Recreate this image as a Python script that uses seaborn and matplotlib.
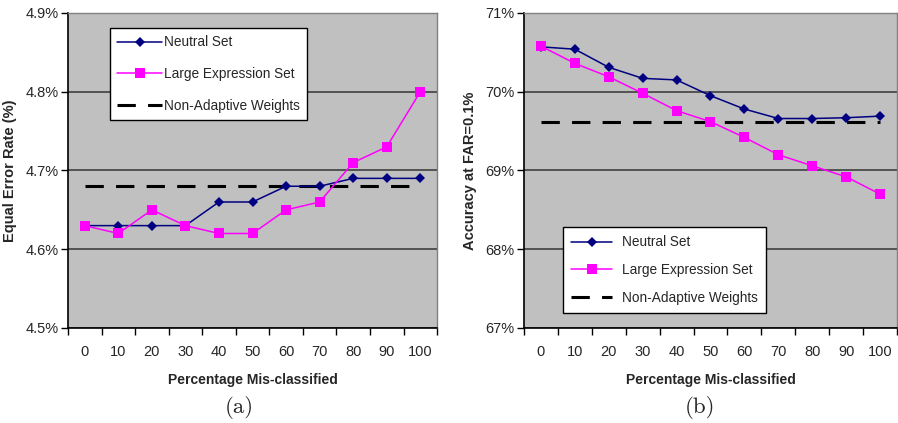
import matplotlib
matplotlib.use('Agg')
import matplotlib.pyplot as plt
import seaborn as sns
import pandas as pd
import numpy as np
from matplotlib.lines import Line2D
from matplotlib.ticker import FixedLocator, FuncFormatter

# Data
pct_misclassified = ['0', '10', '20', '30', '40', '50', '60', '70', '80', '90', '100']

eer_neutral = [4.63, 4.63, 4.63, 4.63, 4.66, 4.66, 4.68, 4.68, 4.69, 4.69, 4.69]
eer_large = [4.63, 4.62, 4.65, 4.63, 4.62, 4.62, 4.65, 4.66, 4.71, 4.73, 4.80]
eer_nonadaptive = 4.68

acc_neutral = [70.57, 70.54, 70.31, 70.17, 70.15, 69.95, 69.78, 69.66, 69.66, 69.67, 69.69]
acc_large = [70.58, 70.36, 70.19, 69.98, 69.76, 69.62, 69.42, 69.20, 69.06, 68.92, 68.70]
acc_nonadaptive = 69.61

NAVY = '#000080'
MAGENTA = '#FF00FF'
BG = '#C0C0C0'

sns.set_style('white')
plt.rcParams['font.family'] = ['Liberation Sans', 'DejaVu Sans']


def draw_panel(ax, neutral, large, baseline, ylim, ystep, yfmt, ylabel, legend_loc, leg_kw):
    pos = np.arange(len(pct_misclassified))
    df = pd.DataFrame({
        'pos': np.tile(pos, 3),
        'value': list(neutral) + list(large) + [baseline] * len(pos),
        'series': (['Neutral Set'] * len(pos) + ['Large Expression Set'] * len(pos)
                   + ['Non-Adaptive Weights'] * len(pos)),
    })
    ax.set_facecolor(BG)

    sns.lineplot(data=df[df['series'] == 'Non-Adaptive Weights'], x='pos', y='value',
                 color='black', linewidth=2.2, dashes=False, ax=ax, zorder=2)
    ax.lines[-1].set_dashes([6, 4])
    sns.lineplot(data=df[df['series'] == 'Neutral Set'], x='pos', y='value',
                 color=NAVY, linewidth=1.1, marker='D', markersize=5,
                 markeredgewidth=0, ax=ax, zorder=3)
    sns.lineplot(data=df[df['series'] == 'Large Expression Set'], x='pos', y='value',
                 color=MAGENTA, linewidth=1.1, marker='s', markersize=6.5,
                 markeredgewidth=0, ax=ax, zorder=4)

    ax.set_xlim(-0.5, len(pos) - 0.5)
    ax.set_ylim(*ylim)
    yt = np.arange(ylim[0], ylim[1] + ystep / 2, ystep)
    ax.set_yticks(yt)
    ax.yaxis.set_major_formatter(FuncFormatter(yfmt))
    ax.yaxis.grid(True, color='#404040', linewidth=1.2)
    ax.set_axisbelow(True)

    ax.xaxis.set_major_locator(FixedLocator(np.arange(-0.5, len(pos), 1.0)))
    ax.xaxis.set_minor_locator(FixedLocator(pos))
    ax.set_xticklabels([])
    ax.set_xticklabels(pct_misclassified, minor=True)
    ax.tick_params(axis='x', which='major', direction='out', length=5, width=1,
                   bottom=True, color='black')
    ax.tick_params(axis='x', which='minor', length=0, pad=12, labelsize=10.5)
    ax.tick_params(axis='y', direction='out', length=5, width=1, left=True,
                   color='black', labelsize=10.5, pad=2)

    for side in ['left', 'bottom']:
        ax.spines[side].set_color('black')
        ax.spines[side].set_linewidth(1.2)
    for side in ['top', 'right']:
        ax.spines[side].set_color('#808080')
        ax.spines[side].set_linewidth(1)

    ax.set_xlabel('Percentage Mis-classified', fontsize=10, fontweight='bold', labelpad=10)
    ax.set_ylabel(ylabel, fontsize=10.5, fontweight='bold', labelpad=6)

    handles = [
        Line2D([], [], color=NAVY, linewidth=1.1, marker='D', markersize=5, markeredgewidth=0),
        Line2D([], [], color=MAGENTA, linewidth=1.1, marker='s', markersize=6.5, markeredgewidth=0),
        Line2D([], [], color='black', linewidth=2.2, dashes=[6, 4]),
    ]
    labels = ['Neutral Set', 'Large Expression Set', 'Non-Adaptive Weights']
    leg = ax.legend(handles, labels, bbox_to_anchor=legend_loc, loc='upper left',
                    fancybox=False, framealpha=1, edgecolor='black', fontsize=9.8,
                    borderaxespad=0, **leg_kw)
    leg.get_frame().set_linewidth(1)


fig = plt.figure(figsize=(8.98, 4.23), dpi=100)
ax1 = fig.add_axes([0.0757, 0.2246, 0.411, 0.7447])
ax2 = fig.add_axes([0.5835, 0.2246, 0.4154, 0.7447])

draw_panel(ax1, eer_neutral, eer_large, eer_nonadaptive, (4.5, 4.9), 0.1,
           lambda v, p: f'{v:.1f}%', 'Equal Error Rate (%)', (0.113, 0.953),
           dict(handlelength=3.3, labelspacing=1.3, borderpad=0.55, handletextpad=0.15))
draw_panel(ax2, acc_neutral, acc_large, acc_nonadaptive, (67, 71), 1,
           lambda v, p: f'{v:.0f}%', 'Accuracy at FAR=0.1%', (0.105, 0.32),
           dict(handlelength=3.0, labelspacing=1.0, borderpad=0.6, handletextpad=0.75))

fig.text(0.267, 0.036, '(a)', fontsize=16.5, family=['cmr10', 'DejaVu Serif'],
         ha='center', va='center')
fig.text(0.78, 0.036, '(b)', fontsize=16.5, family=['cmr10', 'DejaVu Serif'],
         ha='center', va='center')

fig.savefig('out.png', dpi=100)
